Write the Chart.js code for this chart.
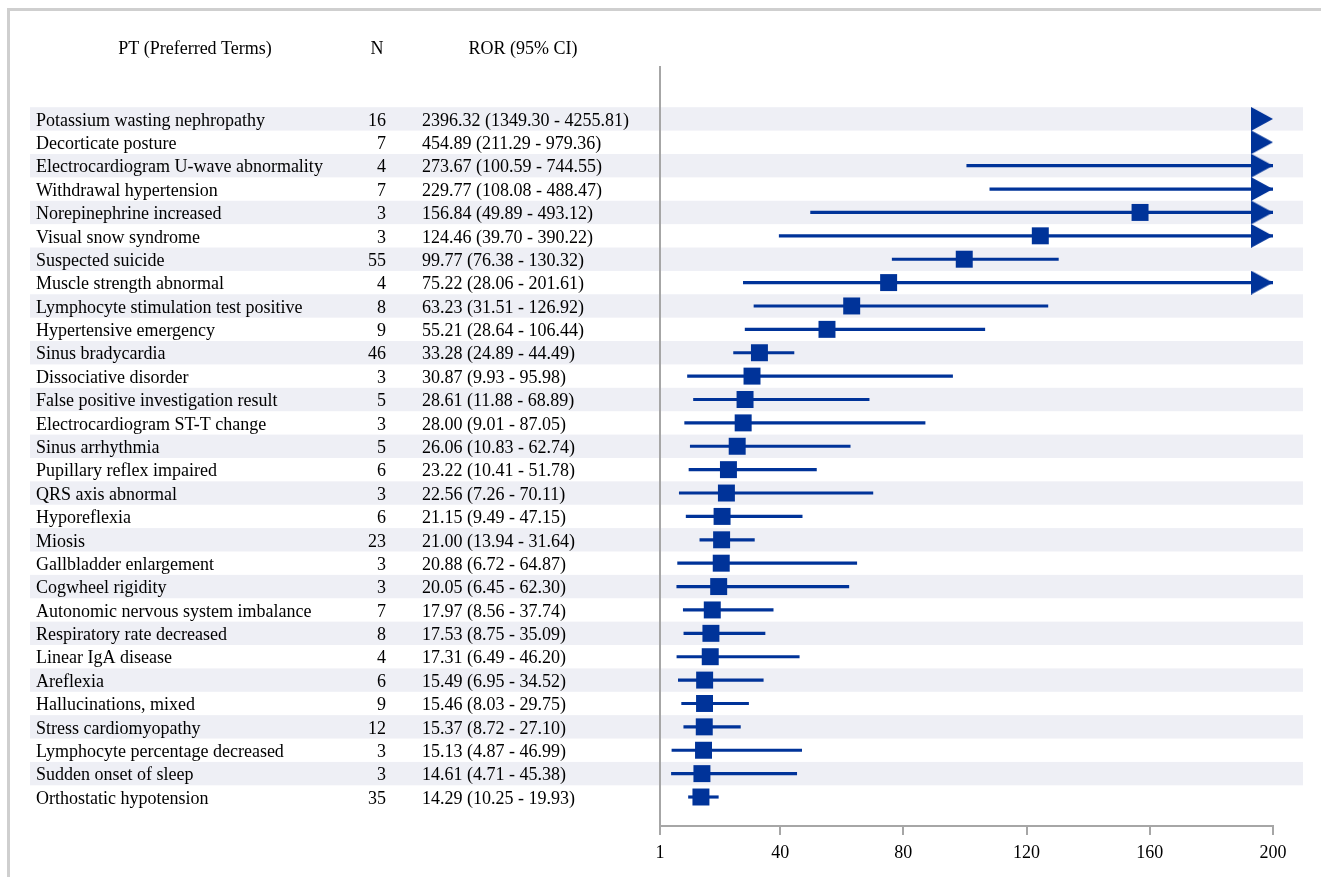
<!DOCTYPE html>
<html>
<head>
<meta charset="utf-8">
<script src="https://cdn.jsdelivr.net/npm/chart.js@4/dist/chart.umd.min.js"></script>
<style>
    html, body { margin: 0; padding: 0; background: #fff; overflow: hidden; }
    #wrap { position: relative; width: 1321px; height: 877px; }
    #frame { position: absolute; left: 7px; top: 8px; width: 1330px; height: 890px; border: 3px solid #cfcfcf; box-sizing: border-box; pointer-events: none; }
</style>
</head>
<body>
<div id="wrap">
    <canvas id="forest" width="1321" height="877"></canvas>
    <div id="frame"></div>
</div>
<script>
// Preferred terms, top to bottom
const terms = [
    'Potassium wasting nephropathy', 'Decorticate posture', 'Electrocardiogram U-wave abnormality',
    'Withdrawal hypertension', 'Norepinephrine increased', 'Visual snow syndrome', 'Suspected suicide',
    'Muscle strength abnormal', 'Lymphocyte stimulation test positive', 'Hypertensive emergency',
    'Sinus bradycardia', 'Dissociative disorder', 'False positive investigation result',
    'Electrocardiogram ST-T change', 'Sinus arrhythmia', 'Pupillary reflex impaired', 'QRS axis abnormal',
    'Hyporeflexia', 'Miosis', 'Gallbladder enlargement', 'Cogwheel rigidity',
    'Autonomic nervous system imbalance', 'Respiratory rate decreased', 'Linear IgA disease', 'Areflexia',
    'Hallucinations, mixed', 'Stress cardiomyopathy', 'Lymphocyte percentage decreased',
    'Sudden onset of sleep', 'Orthostatic hypotension'
];
const nCases = [16, 7, 4, 7, 3, 3, 55, 4, 8, 9, 46, 3, 5, 3, 5, 6, 3, 6, 23, 3, 3, 7, 8, 4, 6, 9, 12, 3, 3, 35];
const ror = [2396.32, 454.89, 273.67, 229.77, 156.84, 124.46, 99.77, 75.22, 63.23, 55.21, 33.28, 30.87, 28.61,
    28.00, 26.06, 23.22, 22.56, 21.15, 21.00, 20.88, 20.05, 17.97, 17.53, 17.31, 15.49, 15.46, 15.37, 15.13, 14.61, 14.29];
const lower = [1349.30, 211.29, 100.59, 108.08, 49.89, 39.70, 76.38, 28.06, 31.51, 28.64, 24.89, 9.93, 11.88,
    9.01, 10.83, 10.41, 7.26, 9.49, 13.94, 6.72, 6.45, 8.56, 8.75, 6.49, 6.95, 8.03, 8.72, 4.87, 4.71, 10.25];
const upper = [4255.81, 979.36, 744.55, 488.47, 493.12, 390.22, 130.32, 201.61, 126.92, 106.44, 44.49, 95.98, 68.89,
    87.05, 62.74, 51.78, 70.11, 47.15, 31.64, 64.87, 62.30, 37.74, 35.09, 46.20, 34.52, 29.75, 27.10, 46.99, 45.38, 19.93];
const xTicks = [1, 40, 80, 120, 160, 200];
const headers = ['PT (Preferred Terms)', 'N', 'ROR (95% CI)'];

const xMin = xTicks[0];
const xMax = xTicks[xTicks.length - 1];
const blue = 'rgb(0, 51, 153)';
const axisGrey = '#a6a6a6';
const bandColor = '#eeeff5';
const serif = '"Liberation Serif", "Times New Roman", serif';

// right-pointing arrow used where the CI runs past the axis max (tip sits on the point)
function makeArrow() {
    const c = document.createElement('canvas');
    c.width = 44;
    c.height = 24;
    const g = c.getContext('2d');
    g.fillStyle = blue;
    g.beginPath();
    g.moveTo(0, 0);
    g.lineTo(22, 12);
    g.lineTo(0, 24);
    g.closePath();
    g.fill();
    return c;
}

const fmt = v => v.toFixed(2);

// bands behind every other row + table text on the left
const tablePlugin = {
    id: 'forestTable',
    beforeDraw(chart) {
        const ctx = chart.ctx;
        const y = chart.scales.y;
        ctx.save();
        ctx.fillStyle = '#fff';
        ctx.fillRect(0, 0, chart.width, chart.height);
        ctx.fillStyle = bandColor;
        terms.forEach((t, i) => {
            if (i % 2 !== 0) return;
            const top = y.getPixelForValue(i - 0.5);
            const bot = y.getPixelForValue(i + 0.5);
            ctx.fillRect(30, top, 1303 - 30, bot - top);
        });
        ctx.restore();
    },
    afterDraw(chart) {
        const ctx = chart.ctx;
        const y = chart.scales.y;
        ctx.save();
        ctx.fillStyle = '#000';
        ctx.font = '18px ' + serif;
        ctx.textBaseline = 'middle';

        ctx.textAlign = 'center';
        ctx.fillText(headers[0], 195, 49);
        ctx.fillText(headers[1], 377, 49);
        ctx.fillText(headers[2], 523, 49);

        terms.forEach((t, i) => {
            const py = y.getPixelForValue(i) + 2;
            ctx.textAlign = 'left';
            ctx.fillText(t, 36, py);
            ctx.textAlign = 'right';
            ctx.fillText(String(nCases[i]), 386, py);
            ctx.textAlign = 'left';
            ctx.fillText(fmt(ror[i]) + ' (' + fmt(lower[i]) + ' - ' + fmt(upper[i]) + ')', 422, py);
        });
        ctx.restore();
    }
};

const ciData = terms.map((t, i) => ({ x: [lower[i], upper[i]], y: i }));
const pointData = terms.map((t, i) => ({ x: ror[i], y: i }));
const arrowData = terms.map((t, i) => ({ x: xMax, y: i })).filter((p, i) => upper[i] > xMax);

new Chart(document.getElementById('forest'), {
    type: 'bar',
    data: {
        datasets: [
            {
                type: 'bar',
                data: ciData,
                backgroundColor: blue,
                borderWidth: 0,
                barThickness: 2.5,
                order: 3
            },
            {
                type: 'scatter',
                data: pointData,
                pointStyle: 'rect',
                pointRadius: 12,
                pointHoverRadius: 12,
                backgroundColor: blue,
                borderColor: blue,
                borderWidth: 0,
                clip: { left: 20, top: 20, bottom: 20, right: 0 },
                order: 2
            },
            {
                type: 'scatter',
                data: arrowData,
                pointStyle: makeArrow(),
                pointRadius: 12,
                clip: false,
                order: 1
            }
        ]
    },
    options: {
        indexAxis: 'y',
        responsive: false,
        animation: false,
        events: [],
        layout: {
            padding: { left: 660, right: 48, top: 67, bottom: 0 }
        },
        scales: {
            x: {
                type: 'linear',
                position: 'bottom',
                min: xMin,
                max: xMax,
                offset: false,
                afterBuildTicks: scale => { scale.ticks = xTicks.map(v => ({ value: v })); },
                afterFit: scale => { scale.height = 51; },
                grid: {
                    drawOnChartArea: false,
                    drawTicks: true,
                    tickLength: 9,
                    color: axisGrey,
                    lineWidth: 2
                },
                border: { display: true, color: axisGrey, width: 2 },
                ticks: {
                    color: '#000',
                    padding: 7,
                    maxRotation: 0,
                    font: { family: serif, size: 18 }
                }
            },
            y: {
                type: 'linear',
                position: 'left',
                reverse: true,
                offset: false,
                min: -2.22,
                max: 30.24,
                afterFit: scale => { scale.width = 0; },
                grid: { display: false },
                ticks: { display: false },
                border: { display: true, color: axisGrey, width: 2 }
            }
        },
        plugins: {
            legend: { display: false },
            tooltip: { enabled: false }
        }
    },
    plugins: [tablePlugin]
});
</script>
</body>
</html>
